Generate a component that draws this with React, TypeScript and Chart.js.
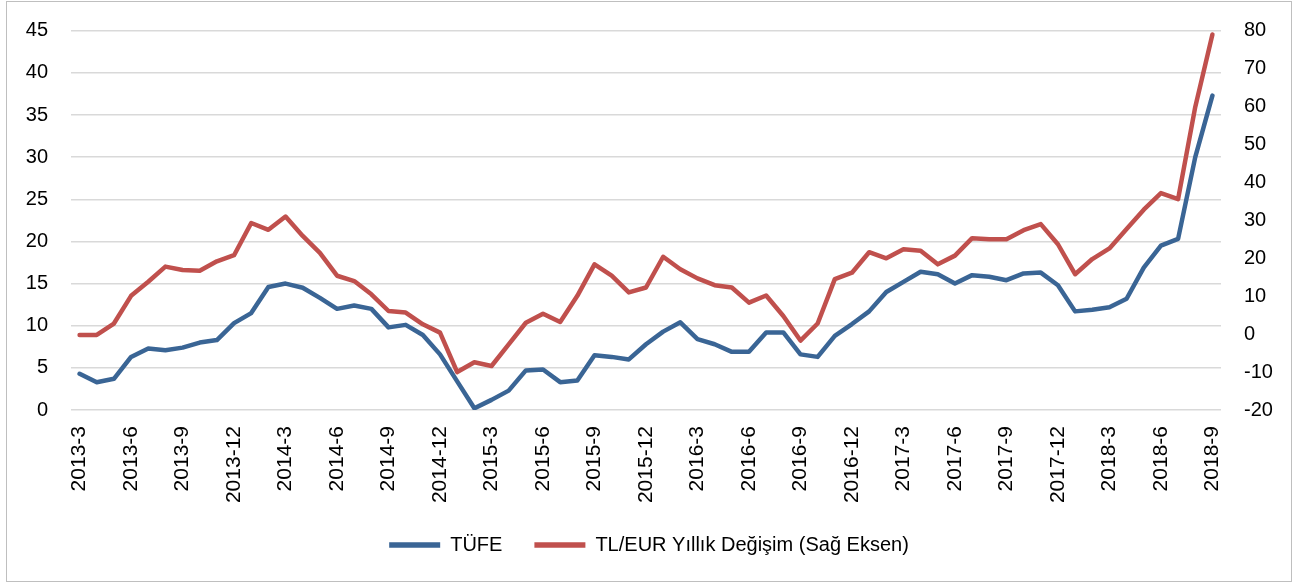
import React, { useEffect, useRef } from "react";
import { Chart, registerables } from "chart.js";

Chart.register(...registerables);

const months: string[] = [
  "2013-3", "2013-4", "2013-5", "2013-6", "2013-7", "2013-8", "2013-9", "2013-10", "2013-11", "2013-12",
  "2014-1", "2014-2", "2014-3", "2014-4", "2014-5", "2014-6", "2014-7", "2014-8", "2014-9", "2014-10", "2014-11", "2014-12",
  "2015-1", "2015-2", "2015-3", "2015-4", "2015-5", "2015-6", "2015-7", "2015-8", "2015-9", "2015-10", "2015-11", "2015-12",
  "2016-1", "2016-2", "2016-3", "2016-4", "2016-5", "2016-6", "2016-7", "2016-8", "2016-9", "2016-10", "2016-11", "2016-12",
  "2017-1", "2017-2", "2017-3", "2017-4", "2017-5", "2017-6", "2017-7", "2017-8", "2017-9", "2017-10", "2017-11", "2017-12",
  "2018-1", "2018-2", "2018-3", "2018-4", "2018-5", "2018-6", "2018-7", "2018-8", "2018-9",
];

const tufe: number[] = [
  4.3, 3.3, 3.7, 6.3, 7.3, 7.1, 7.4, 8.0, 8.3, 10.3,
  11.5, 14.6, 15.0, 14.5, 13.3, 12.0, 12.4, 12.0, 9.8, 10.1, 8.9, 6.6,
  3.4, 0.2, 1.2, 2.3, 4.7, 4.8, 3.3, 3.5, 6.5, 6.3, 6.0, 7.8,
  9.3, 10.4, 8.4, 7.8, 6.9, 6.9, 9.2, 9.2, 6.6, 6.3, 8.8, 10.2,
  11.7, 14.0, 15.2, 16.4, 16.1, 15.0, 16.0, 15.8, 15.4, 16.2, 16.3, 14.8,
  11.7, 11.9, 12.2, 13.2, 16.9, 19.5, 20.3, 30.0, 37.3,
];

const tlEur: number[] = [
  -0.2, -0.2, 2.8, 10.1, 13.8, 17.8, 16.9, 16.7, 19.2, 20.8,
  29.3, 27.5, 31.0, 25.9, 21.4, 15.4, 14.0, 10.5, 6.1, 5.7, 2.6, 0.4,
  -10.0, -7.4, -8.4, -2.7, 3.0, 5.4, 3.2, 10.1, 18.4, 15.4, 11.0, 12.3,
  20.4, 17.1, 14.7, 12.9, 12.3, 8.3, 10.2, 4.8, -1.7, 2.8, 14.5, 16.2,
  21.6, 20.0, 22.4, 22.0, 18.4, 20.7, 25.3, 25.0, 25.0, 27.4, 29.0, 23.7,
  15.8, 19.8, 22.6, 27.7, 32.8, 37.2, 35.6, 59.9, 79.0,
];

const seriesNames: string[] = ["TÜFE", "TL/EUR Yıllık Değişim (Sağ Eksen)"];
const leftRange: number[] = [0, 45, 5];
const rightRange: number[] = [-20, 80, 10];

const FONT = "'Liberation Sans', Arial, sans-serif";

export default function App() {
  const ref = useRef<HTMLCanvasElement | null>(null);

  useEffect(() => {
    if (!ref.current) return;
    const chart = new Chart(ref.current, {
      type: "line",
      data: {
        labels: months,
        datasets: [
          {
            label: seriesNames[0],
            data: tufe,
            yAxisID: "y",
            borderColor: "#3A6595",
            backgroundColor: "#3A6595",
            borderWidth: 4.5,
            pointRadius: 0,
            tension: 0,
            borderJoinStyle: "round",
            borderCapStyle: "round",
          },
          {
            label: seriesNames[1],
            data: tlEur,
            yAxisID: "y1",
            borderColor: "#C0504D",
            backgroundColor: "#C0504D",
            borderWidth: 4.5,
            pointRadius: 0,
            tension: 0,
            borderJoinStyle: "round",
            borderCapStyle: "round",
          },
        ],
      },
      options: {
        responsive: false,
        animation: false,
        layout: { padding: { top: 28.7, bottom: 16, left: 0, right: 0 } },
        plugins: {
          tooltip: { enabled: false },
          legend: {
            position: "bottom",
            labels: {
              usePointStyle: true,
              pointStyle: "line",
              pointStyleWidth: 51,
              padding: 32,
              color: "#000",
              font: { family: FONT, size: 20 },
              generateLabels: (c: any) =>
                Chart.defaults.plugins.legend.labels
                  .generateLabels(c)
                  .map((l: any) => ({ ...l, lineWidth: 5.5, pointStyle: "line" })),
            },
          },
        },
        scales: {
          x: {
            offset: true,
            grid: { display: false, drawTicks: false },
            border: { display: false },
            afterFit: (s: any) => {
              s.height = 93;
            },
            ticks: {
              autoSkip: false,
              minRotation: 90,
              maxRotation: 90,
              padding: 16,
              color: "#000",
              font: { family: FONT, size: 21 },
              callback: function (this: any, value: any, index: number) {
                return index % 3 === 0 ? months[index] : null;
              },
            },
          },
          y: {
            position: "left",
            min: leftRange[0],
            max: leftRange[1],
            grid: { color: "#d9d9d9", lineWidth: 1.5, drawTicks: false },
            border: { display: false },
            afterFit: (s: any) => {
              s.width = 64;
              s.paddingTop = 0;
              s.paddingBottom = 0;
            },
            ticks: {
              stepSize: leftRange[2],
              padding: 23,
              color: "#000",
              font: { family: FONT, size: 20 },
            },
          },
          y1: {
            position: "right",
            min: rightRange[0],
            max: rightRange[1],
            grid: { display: false, drawTicks: false },
            border: { display: false },
            afterFit: (s: any) => {
              s.width = 70;
              s.paddingTop = 0;
              s.paddingBottom = 0;
            },
            ticks: {
              stepSize: rightRange[2],
              padding: 23,
              color: "#000",
              font: { family: FONT, size: 20 },
            },
          },
        },
      },
    });
    return () => chart.destroy();
  }, []);

  return (
    <div
      style={{
        position: "absolute",
        left: 6,
        top: 1,
        width: 1286,
        height: 581,
        border: "1px solid #bfbfbf",
        boxSizing: "border-box",
        background: "#fff",
      }}
    >
      <canvas ref={ref} width={1284} height={579} style={{ display: "block" }} />
    </div>
  );
}
